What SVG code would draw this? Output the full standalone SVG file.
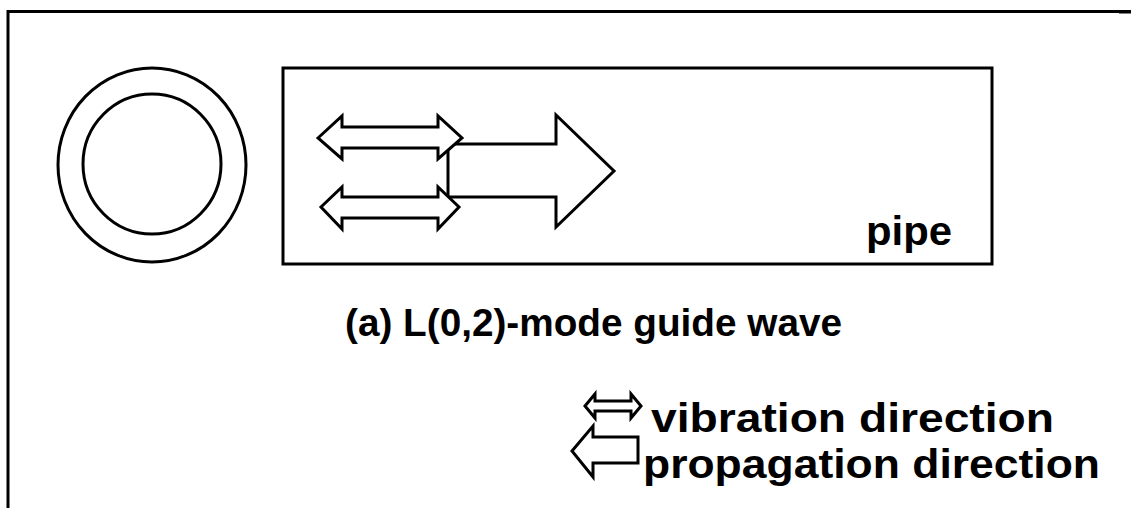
<svg xmlns="http://www.w3.org/2000/svg" width="1131" height="508" viewBox="0 0 1131 508">
  <style>
    .ln { fill: none; stroke: #000; stroke-width: 3; }
    .shape { fill: #fff; stroke: #000; stroke-width: 3; stroke-linejoin: miter; }
    .lbl { font-family: "Liberation Sans", Arial, sans-serif; font-weight: 700; fill: #000; }
  </style>

  <rect x="0" y="0" width="1131" height="508" fill="#fff"/>

  <!-- frame -->
  <g id="frame">
    <path class="ln" d="M8,508 V11.5 H1131" stroke-width="2"/>
    <rect x="7" y="10" width="15" height="3" fill="#000"/>
    <rect x="1119" y="10" width="12" height="3.5" fill="#000"/>
  </g>

  <!-- pipe cross-section -->
  <g id="section">
    <ellipse class="ln" cx="152" cy="165" rx="94" ry="97"/>
    <ellipse class="ln" cx="152" cy="164" rx="69" ry="70"/>
  </g>

  <!-- pipe wall (longitudinal view) -->
  <g id="pipe">
    <rect class="ln" x="283" y="68" width="709" height="196"/>
    <text class="lbl" x="866" y="245" font-size="41" textLength="86" lengthAdjust="spacingAndGlyphs">pipe</text>
  </g>

  <!-- propagation arrow -->
  <g id="propagation">
    <path class="shape" d="M448,144 H556 V115 L614,171 L556,227 V197 H448 Z"/>
  </g>

  <!-- vibration arrows -->
  <g id="vibration-top">
    <path class="shape" d="M318,138 L342,116 V127 H438 V116 L462,138 L438,159 V148 H342 V159 Z"/>
  </g>
  <g id="vibration-bottom">
    <path class="shape" d="M321,207 L342,187 V197 H438 V187 L459,207 L438,229 V218 H342 V229 Z"/>
  </g>

  <!-- caption -->
  <g id="caption">
    <text class="lbl" x="345" y="336" font-size="39" textLength="497" lengthAdjust="spacingAndGlyphs">(a) L(0,2)-mode guide wave</text>
  </g>

  <!-- legend -->
  <g id="legend-vibration">
    <path class="shape" stroke-width="2.5" d="M585,406 L595,394 V401 H631 V394 L641,406 L631,418 V411 H595 V418 Z"/>
    <text class="lbl" x="651" y="432" font-size="40" textLength="403" lengthAdjust="spacingAndGlyphs">vibration direction</text>
  </g>
  <g id="legend-propagation">
    <path class="shape" stroke-width="2.5" d="M572,451 L593,426 V437 H638 V463 H593 V477 Z"/>
    <text class="lbl" x="643" y="478" font-size="40" textLength="457" lengthAdjust="spacingAndGlyphs">propagation direction</text>
  </g>
</svg>
